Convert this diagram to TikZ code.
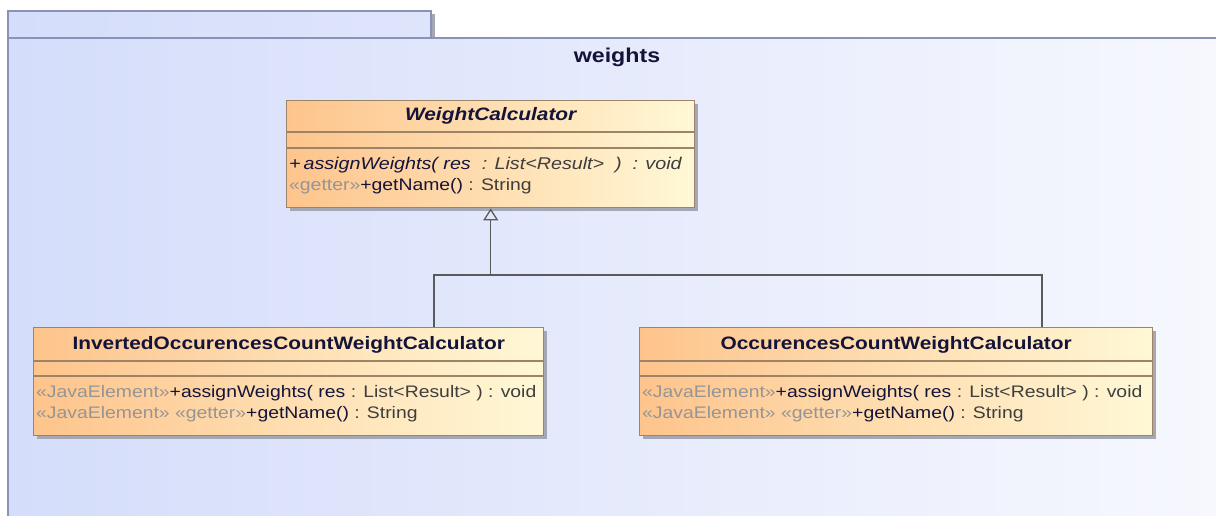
\documentclass[tikz,border=0pt]{standalone}
\usepackage{fontspec}
\setmainfont{Liberation Sans}[FakeStretch=1.16]
\usetikzlibrary{arrows.meta}

% palette
\definecolor{pkgL}{HTML}{D4DDFA}
\definecolor{pkgR}{HTML}{F7F8FE}
\definecolor{pkgLine}{HTML}{8A92B8}
\definecolor{clsL}{HTML}{FEC48C}
\definecolor{clsR}{HTML}{FFF8D6}
\definecolor{clsLine}{HTML}{9E8466}
\definecolor{stereo}{HTML}{959595}
\definecolor{ink}{HTML}{14143A}
\definecolor{soft}{HTML}{3E3E3E}
\definecolor{wire}{HTML}{5A5A5A}
\definecolor{shadow}{HTML}{A4A8B4}

\newcommand{\stt}[1]{\textcolor{stereo}{#1}}
\newcommand{\sft}[1]{\textcolor{soft}{#1}}

\tikzset{
  shadowbox/.style={fill=shadow, draw=none},
  clsbox/.style={rectangle, draw=clsLine, line width=1.4pt, left color=clsL, right color=clsR,
                 anchor=north west, inner sep=0pt},
  clssep/.style={draw=clsLine, line width=1.2pt},
  clsname/.style={font=\fontsize{18}{20}\selectfont\bfseries, text=ink, inner sep=0pt},
  opline/.style={font=\fontsize{16.7}{19}\selectfont, text=ink, anchor=west, inner sep=0pt},
  wireline/.style={draw=wire, line width=1.5pt},
  generalize/.style={wireline, -{Triangle[open, length=12pt, width=15pt, line width=1.3pt]}}
}

\begin{document}
\begin{tikzpicture}[x=1pt, y=-1pt]
\useasboundingbox (0,0) rectangle (1216,515);
\fill[white] (0,0) rectangle (1216,515);

% package "weights": tab and body
\fill[shadowbox] (431,14) rectangle (435,38);
\shade[left color=pkgL, right color=pkgL!70!pkgR] (8,11) rectangle (431,38);
\draw[pkgLine, line width=1.5pt] (8,38) -- (8,11) -- (431,11) -- (431,38);
\shade[left color=pkgL, right color=pkgR] (8,38) rectangle (1220,520);
\draw[pkgLine, line width=1.5pt] (8,520) -- (8,38) -- (1220,38);
\node[font=\fontsize{20}{22}\selectfont\bfseries, text=ink, inner sep=0pt] (pkgname) at (617,57) {weights};

% abstract class WeightCalculator
\fill[shadowbox] (290,104) rectangle (698,211);
\node[clsbox, minimum width=408pt, minimum height=107pt] (wc) at (286,100) {};
\draw[clssep] ([yshift=-32pt]wc.north west) -- ([yshift=-32pt]wc.north east);
\draw[clssep] ([yshift=-48pt]wc.north west) -- ([yshift=-48pt]wc.north east);
\node[clsname, font=\fontsize{18}{20}\selectfont\bfseries\itshape] (wcname) at ([yshift=-16pt]wc.north) {WeightCalculator};
\node[opline, font=\fontsize{17}{19}\selectfont\itshape] (wcop1) at ([xshift=3pt, yshift=-65pt]wc.north west)
  {+\,assignWeights( res \sft{\ : List<Result>\ \ )\ \ : void}};
\node[opline] (wcop2) at ([xshift=3pt, yshift=-86pt]wc.north west)
  {\stt{«getter»}+getName() \sft{: String}};

% InvertedOccurencesCountWeightCalculator
\fill[shadowbox] (37,331) rectangle (547,439);
\node[clsbox, minimum width=510pt, minimum height=108pt] (inv) at (33,327) {};
\draw[clssep] ([yshift=-34pt]inv.north west) -- ([yshift=-34pt]inv.north east);
\draw[clssep] ([yshift=-49pt]inv.north west) -- ([yshift=-49pt]inv.north east);
\node[clsname] (invname) at ([yshift=-18pt]inv.north) {InvertedOccurencesCountWeightCalculator};
\node[opline] (invop1) at ([xshift=3pt, yshift=-66pt]inv.north west)
  {\stt{«JavaElement»}+assignWeights( res \sft{: List<Result> ) : void}};
\node[opline] (invop2) at ([xshift=3pt, yshift=-87pt]inv.north west)
  {\stt{«JavaElement» «getter»}+getName() \sft{: String}};

% OccurencesCountWeightCalculator
\fill[shadowbox] (643,331) rectangle (1156,439);
\node[clsbox, minimum width=513pt, minimum height=108pt] (occ) at (639,327) {};
\draw[clssep] ([yshift=-34pt]occ.north west) -- ([yshift=-34pt]occ.north east);
\draw[clssep] ([yshift=-49pt]occ.north west) -- ([yshift=-49pt]occ.north east);
\node[clsname] (occname) at ([yshift=-18pt]occ.north) {OccurencesCountWeightCalculator};
\node[opline] (occop1) at ([xshift=3pt, yshift=-66pt]occ.north west)
  {\stt{«JavaElement»}+assignWeights( res \sft{: List<Result> ) : void}};
\node[opline] (occop2) at ([xshift=3pt, yshift=-87pt]occ.north west)
  {\stt{«JavaElement» «getter»}+getName() \sft{: String}};

% generalization tree
\coordinate (bendL) at (434,275);
\coordinate (bendR) at (1042,275);
\draw[wireline] (inv.north -| bendL) -- (bendL) -- (bendR) -- (occ.north -| bendR);
\draw[generalize] (bendL -| wc.south) -- (wc.south);
\end{tikzpicture}
\end{document}
